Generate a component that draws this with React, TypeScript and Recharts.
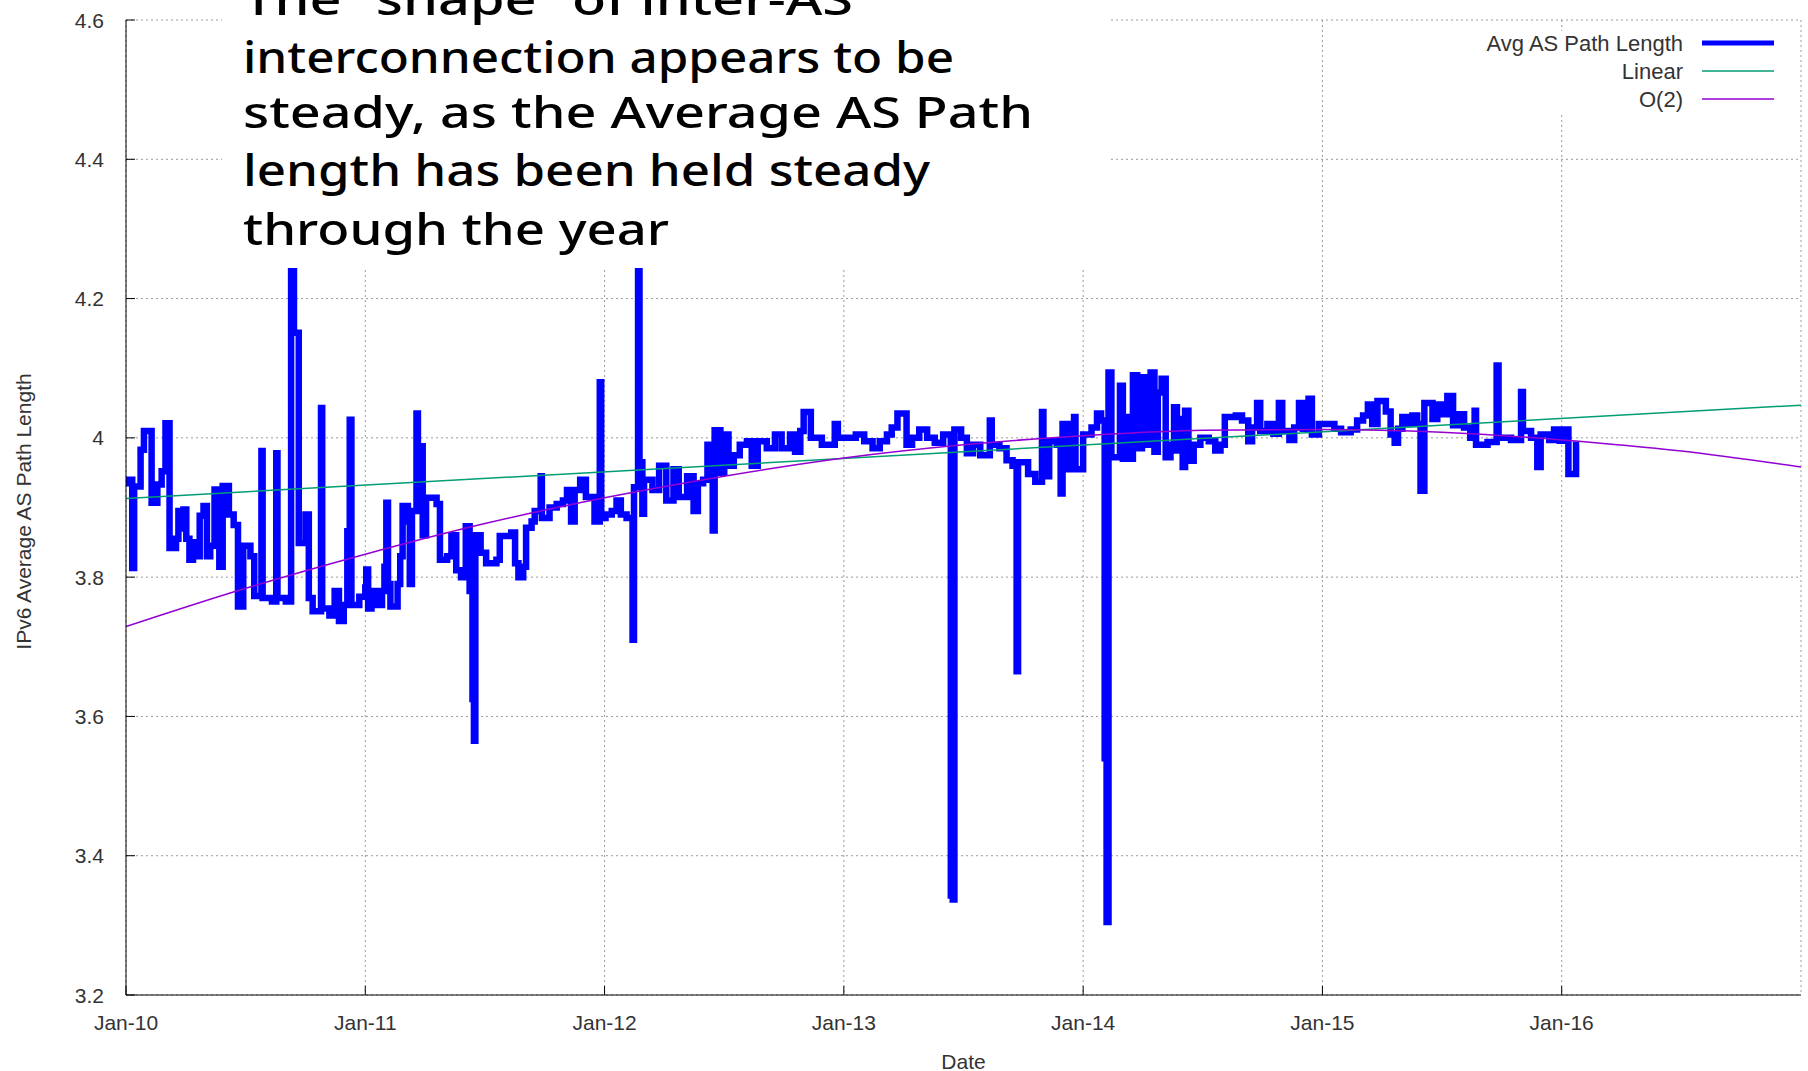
import { LineChart, Line, XAxis, YAxis, CartesianGrid, Legend } from 'recharts'

const W = 1808
const H = 1071

// x axis is in decimal years
const yearTicks = [2010, 2011, 2012, 2013, 2014, 2015, 2016]
const valueTicks = [3.2, 3.4, 3.6, 3.8, 4, 4.2, 4.4, 4.6]

// Avg AS path length samples, [decimal year, value]
const path2010: [number, number][] = [
  [2010.0, 3.935], [2010.01, 3.94], [2010.026, 3.813], [2010.034, 3.93], [2010.061, 3.983],
  [2010.075, 4.01], [2010.107, 3.907], [2010.131, 3.933], [2010.149, 3.952], [2010.165, 4.021],
  [2010.182, 3.842], [2010.209, 3.855], [2010.219, 3.895], [2010.229, 3.87], [2010.24, 3.897],
  [2010.252, 3.855], [2010.265, 3.825], [2010.28, 3.85], [2010.295, 3.83], [2010.308, 3.888],
  [2010.324, 3.902], [2010.338, 3.83], [2010.352, 3.845], [2010.37, 3.926], [2010.39, 3.815],
  [2010.404, 3.931], [2010.43, 3.89], [2010.45, 3.875], [2010.468, 3.758], [2010.49, 3.845],
  [2010.52, 3.83], [2010.536, 3.773], [2010.566, 3.981], [2010.571, 3.77], [2010.61, 3.765],
  [2010.628, 3.978], [2010.633, 3.77], [2010.668, 3.765], [2010.69, 4.35], [2010.702, 4.151],
  [2010.722, 3.849], [2010.75, 3.89], [2010.764, 3.77], [2010.78, 3.751], [2010.815, 4.043],
  [2010.82, 3.755], [2010.85, 3.745], [2010.872, 3.78], [2010.89, 3.737], [2010.91, 3.76],
  [2010.925, 3.866], [2010.935, 4.026], [2010.942, 3.76], [2010.975, 3.772],
]

const path2011: [number, number][] = [
  [2011.0, 3.785], [2011.004, 3.811], [2011.012, 3.755], [2011.026, 3.78], [2011.05, 3.76],
  [2011.07, 3.78], [2011.08, 3.815], [2011.088, 3.907], [2011.095, 3.79], [2011.105, 3.758],
  [2011.135, 3.79], [2011.146, 3.83], [2011.156, 3.902], [2011.178, 3.88], [2011.186, 3.79],
  [2011.195, 3.895], [2011.214, 4.035], [2011.22, 3.988], [2011.24, 3.86], [2011.254, 3.914],
  [2011.298, 3.905], [2011.312, 3.825], [2011.342, 3.83], [2011.36, 3.86], [2011.38, 3.81],
  [2011.4, 3.8], [2011.42, 3.873], [2011.436, 3.78], [2011.448, 3.625], [2011.454, 3.565],
  [2011.46, 3.86], [2011.482, 3.835], [2011.505, 3.82], [2011.548, 3.825], [2011.562, 3.859],
  [2011.61, 3.864], [2011.626, 3.82], [2011.64, 3.8], [2011.66, 3.815], [2011.672, 3.871],
  [2011.695, 3.88], [2011.708, 3.895], [2011.733, 3.945], [2011.738, 3.885], [2011.77, 3.9],
  [2011.8, 3.905], [2011.826, 3.91], [2011.843, 3.925], [2011.86, 3.88], [2011.875, 3.925],
  [2011.898, 3.94], [2011.922, 3.915], [2011.958, 3.88], [2011.98, 4.08], [2011.986, 3.885],
]

const path2012: [number, number][] = [
  [2012.004, 3.89], [2012.03, 3.895], [2012.05, 3.91], [2012.068, 3.89], [2012.092, 3.885],
  [2012.117, 3.71], [2012.123, 3.929], [2012.14, 4.32], [2012.146, 3.965], [2012.158, 3.891],
  [2012.165, 3.94], [2012.2, 3.925], [2012.228, 3.96], [2012.258, 3.91], [2012.288, 3.955],
  [2012.31, 3.915], [2012.345, 3.945], [2012.372, 3.895], [2012.39, 3.935], [2012.412, 3.94],
  [2012.43, 3.99], [2012.452, 3.867], [2012.46, 4.011], [2012.484, 3.95], [2012.5, 4.005],
  [2012.518, 3.96], [2012.54, 3.975], [2012.565, 3.99], [2012.595, 3.995], [2012.615, 3.96],
  [2012.64, 3.995], [2012.678, 3.985], [2012.712, 4.005], [2012.74, 3.985], [2012.775, 4.005],
  [2012.796, 3.98], [2012.818, 4.01], [2012.832, 4.037], [2012.862, 4.0], [2012.908, 3.99],
  [2012.962, 4.02], [2012.975, 4.0],
]

const path2013: [number, number][] = [
  [2013.015, 4.0], [2013.05, 4.005], [2013.085, 3.995], [2013.12, 3.985], [2013.15, 3.995],
  [2013.18, 4.005], [2013.2, 4.015], [2013.224, 4.035], [2013.262, 3.99], [2013.285, 4.0],
  [2013.315, 4.012], [2013.348, 4.0], [2013.38, 3.993], [2013.415, 4.005], [2013.447, 3.343],
  [2013.455, 3.337], [2013.462, 4.012], [2013.49, 4.0], [2013.514, 3.978], [2013.54, 3.99],
  [2013.57, 3.975], [2013.61, 4.025], [2013.618, 3.99], [2013.65, 3.985], [2013.68, 3.968],
  [2013.705, 3.96], [2013.722, 3.665], [2013.728, 3.965], [2013.77, 3.948], [2013.8, 3.937],
  [2013.828, 4.037], [2013.834, 3.945], [2013.858, 3.995], [2013.89, 3.99], [2013.906, 3.92],
  [2013.914, 4.02], [2013.94, 3.955], [2013.962, 4.03], [2013.968, 3.955],
]

const path2014: [number, number][] = [
  [2014.0, 4.005], [2014.035, 4.015], [2014.058, 4.035], [2014.075, 4.025], [2014.09, 3.54],
  [2014.098, 3.305], [2014.106, 4.094], [2014.118, 3.972], [2014.154, 4.075], [2014.166, 3.97],
  [2014.182, 4.03], [2014.194, 3.97], [2014.208, 4.09], [2014.226, 3.985], [2014.246, 4.087],
  [2014.262, 3.99], [2014.282, 4.094], [2014.298, 3.98], [2014.312, 4.065], [2014.328, 4.085],
  [2014.345, 3.972], [2014.365, 3.99], [2014.38, 4.044], [2014.392, 3.982], [2014.406, 4.027],
  [2014.416, 3.958], [2014.426, 4.039], [2014.44, 3.967], [2014.462, 3.99], [2014.49, 4.0],
  [2014.525, 3.995], [2014.552, 3.982], [2014.574, 3.99], [2014.592, 4.03], [2014.638, 4.032],
  [2014.664, 4.025], [2014.69, 3.995], [2014.706, 4.015], [2014.727, 4.05], [2014.74, 4.01],
  [2014.77, 4.02], [2014.795, 4.006], [2014.818, 4.05], [2014.832, 4.01], [2014.862, 3.997],
  [2014.882, 4.015], [2014.902, 4.05], [2014.918, 4.013], [2014.942, 4.056], [2014.956, 4.005],
  [2014.985, 4.02],
]

const path2015: [number, number][] = [
  [2015.02, 4.02], [2015.05, 4.013], [2015.078, 4.008], [2015.118, 4.012], [2015.145, 4.025],
  [2015.17, 4.032], [2015.19, 4.048], [2015.208, 4.02], [2015.23, 4.053], [2015.265, 4.038],
  [2015.285, 4.005], [2015.302, 3.993], [2015.316, 4.013], [2015.334, 4.03], [2015.355, 4.02],
  [2015.376, 4.032], [2015.396, 4.02], [2015.41, 3.924], [2015.426, 4.05], [2015.46, 4.027],
  [2015.48, 4.048], [2015.5, 4.034], [2015.522, 4.06], [2015.546, 4.018], [2015.565, 4.034],
  [2015.592, 4.015], [2015.618, 4.0], [2015.636, 4.039], [2015.642, 3.99], [2015.69, 3.994],
  [2015.728, 4.104], [2015.736, 4.0], [2015.788, 3.997], [2015.83, 4.066], [2015.838, 4.01],
  [2015.872, 4.0], [2015.898, 3.958], [2015.912, 4.005], [2015.948, 3.997], [2015.968, 4.012],
  [2015.992, 3.996],
]

const path2016: [number, number][] = [
  [2016.018, 4.012], [2016.028, 3.948], [2016.06, 3.99], [2016.073, 3.99],
]

// fitted trends
const linearFit: [number, number][] = [[2010, 3.913], [2017, 4.047]]
const quadFit: [number, number][] = [
  [2010, 3.729], [2010.5, 3.784], [2011, 3.833], [2011.5, 3.877], [2012, 3.914],
  [2012.5, 3.945], [2013, 3.971], [2013.5, 3.99], [2014, 4.003], [2014.5, 4.011],
  [2015, 4.012], [2015.5, 4.008], [2016, 3.997], [2016.5, 3.981], [2017, 3.958],
]

const noteLines = [
  'The \u201Cshape\u201D of inter-AS',
  'interconnection appears to be',
  'steady, as the Average AS Path',
  'length has been held steady',
  'through the year',
]
const noteBaselines = [15, 73, 128, 186, 245]
const noteWidths = [610, 711, 790, 687, 426]

const toRows = (pts: [number, number][]) => pts.map(([t, v]) => ({ t, v }))

const pathData = toRows([
  ...path2010, ...path2011, ...path2012, ...path2013, ...path2014, ...path2015, ...path2016,
])
const linearData = toRows(linearFit)
const quadData = toRows(quadFit)

const FONT = '"Liberation Sans", Arial, sans-serif'
const TEXT = '#333'
const TICK = 9

const yearLabel = (y: number) => `Jan-${String(y).slice(2)}`

function BottomTick({ x, y, payload }: any) {
  return (
    <g>
      <line x1={x} y1={y} x2={x} y2={y - TICK} stroke="#000" />
      <text x={x} y={y + 27} textAnchor="middle" dominantBaseline="central"
        fontSize={21} fontFamily={FONT} fill={TEXT}>
        {yearLabel(payload.value)}
      </text>
    </g>
  )
}

function TopTick({ x, y }: any) {
  return <line x1={x} y1={y} x2={x} y2={y + TICK} stroke="#000" />
}

function LeftTick({ x, y, payload }: any) {
  return (
    <g>
      <line x1={x} y1={y} x2={x + TICK} y2={y} stroke="#000" />
      <text x={x - 22} y={y} textAnchor="end" dominantBaseline="central"
        fontSize={21} fontFamily={FONT} fill={TEXT}>
        {String(payload.value)}
      </text>
    </g>
  )
}

function RightTick({ x, y }: any) {
  return <line x1={x} y1={y} x2={x - TICK} y2={y} stroke="#000" />
}

const legendRows = [
  { name: 'Avg AS Path Length', color: '#0000ff', width: 5 },
  { name: 'Linear', color: '#009e73', width: 1.5 },
  { name: 'O(2)', color: '#9400d3', width: 1.5 },
]

function KeyBox() {
  return (
    <svg width={320} height={82} style={{ display: 'block' }}>
      <rect x={0} y={0} width={320} height={82} fill="#fff" />
      {legendRows.map((r, i) => {
        const cy = 12 + i * 28
        return (
          <g key={r.name}>
            <text x={213} y={cy} textAnchor="end" dominantBaseline="central"
              fontSize={22} fontFamily={FONT} fill={TEXT}>{r.name}</text>
            <line x1={232} x2={304} y1={cy} y2={cy} stroke={r.color} strokeWidth={r.width} />
          </g>
        )
      })}
    </svg>
  )
}

// hand-lettered note sitting over the top of the plot
function Note() {
  return (
    <svg width={1120} height={270} style={{ position: 'absolute', left: 0, top: 0, pointerEvents: 'none' }}>
      <rect x={222} y={0} width={889} height={268} fill="#fff" />
      {noteLines.map((line, i) => (
        <text key={i} x={243} y={noteBaselines[i]} textLength={noteWidths[i]}
          lengthAdjust="spacingAndGlyphs" fontSize={44} fontWeight={500}
          fontFamily='"Noto Sans", "Open Sans", sans-serif' fill="#000">
          {line}
        </text>
      ))}
    </svg>
  )
}

export default function App() {
  return (
    <div style={{ position: 'absolute', left: 0, top: 0, width: W, height: H, background: '#fff' }}>
      <LineChart width={W} height={H} margin={{ top: 20, right: 7, bottom: 36, left: 26 }}>
        <CartesianGrid stroke="#9a9a9a" strokeDasharray="2 3" />
        <XAxis dataKey="t" type="number" domain={[2010, 2017]} ticks={yearTicks} allowDataOverflow
          height={40} tickSize={0} tickMargin={0} tickLine={false} tick={<BottomTick />}
          axisLine={{ stroke: '#000' }}
          label={{
            content: ({ viewBox }: any) => (
              <text x={viewBox.x + viewBox.width / 2} y={viewBox.y + 66} textAnchor="middle"
                dominantBaseline="central" fontSize={21} fontFamily={FONT} fill={TEXT}>Date</text>
            ),
          }}
        />
        <XAxis xAxisId="top" orientation="top" dataKey="t" type="number" domain={[2010, 2017]}
          ticks={yearTicks} allowDataOverflow height={0} tickSize={0} tickMargin={0}
          tickLine={false} tick={<TopTick />} axisLine={{ stroke: '#000' }} />
        <YAxis type="number" domain={[3.2, 4.6]} ticks={valueTicks} allowDataOverflow width={100}
          tickSize={0} tickMargin={0} tickLine={false} tick={<LeftTick />} axisLine={{ stroke: '#000' }}
          label={{
            content: ({ viewBox }: any) => {
              const cx = viewBox.x - 3
              const cy = viewBox.y + viewBox.height / 2 + 4
              return (
                <text x={cx} y={cy} transform={`rotate(-90, ${cx}, ${cy})`} textAnchor="middle"
                  dominantBaseline="central" fontSize={21} fontFamily={FONT} fill={TEXT}>
                  IPv6 Average AS Path Length
                </text>
              )
            },
          }}
        />
        <YAxis yAxisId="right" orientation="right" type="number" domain={[3.2, 4.6]} ticks={valueTicks}
          allowDataOverflow width={0} tickSize={0} tickMargin={0} tickLine={false} tick={<RightTick />}
          axisLine={{ stroke: '#000' }} />
        <Legend layout="horizontal" verticalAlign="middle" align="center" content={<KeyBox />}
          wrapperStyle={{ left: 1470, top: 31, width: 320, height: 82 }} />
        <Line data={pathData} dataKey="v" name="Avg AS Path Length" type="stepAfter" stroke="#0000ff"
          strokeWidth={6.5} strokeLinejoin="miter" dot={false} activeDot={false} isAnimationActive={false} />
        <Line data={linearData} dataKey="v" name="Linear" type="linear" stroke="#009e73"
          strokeWidth={1.5} dot={false} activeDot={false} isAnimationActive={false} />
        <Line data={quadData} dataKey="v" name="O(2)" type="monotone" stroke="#9400d3"
          strokeWidth={1.5} dot={false} activeDot={false} isAnimationActive={false} />
      </LineChart>
      <Note />
    </div>
  )
}
